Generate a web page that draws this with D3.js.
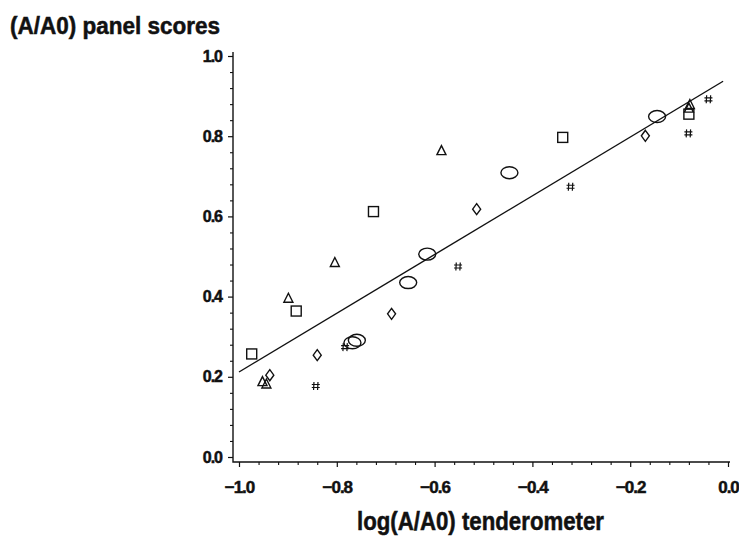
<!DOCTYPE html>
<html>
<head>
<meta charset="utf-8">
<script src="https://cdn.jsdelivr.net/npm/d3@7"></script>
<style>
  html, body { margin: 0; padding: 0; background: #fff; }
  svg { display: block; }
  text { font-family: "Liberation Sans", Arial, Helvetica, sans-serif; font-weight: bold; fill: #111; stroke: #111; stroke-width: 0.5; }
</style>
</head>
<body>
<svg id="chart" width="739" height="541"></svg>
<script>
// Axis ticks
const xMajorTicks = [-1.0, -0.8, -0.6, -0.4, -0.2, 0.0];
const yMajorTicks = [0.0, 0.2, 0.4, 0.6, 0.8, 1.0];
const minorStep = 0.04;

// Observations, one array per plotting symbol: [log(A/A0) tenderometer, (A/A0) panel score]
const squarePts = [[-0.974, 0.257], [-0.883, 0.364], [-0.725, 0.612], [-0.338, 0.797], [-0.080, 0.855]];
const trianglePts = [[-0.952, 0.188], [-0.944, 0.182], [-0.899, 0.396], [-0.804, 0.485], [-0.586, 0.764], [-0.080, 0.870], [-0.078, 0.879]];
const diamondPts = [[-0.937, 0.204], [-0.840, 0.254], [-0.688, 0.357], [-0.514, 0.618], [-0.169, 0.801]];
const ellipsePts = [[-0.768, 0.285], [-0.759, 0.291], [-0.654, 0.435], [-0.615, 0.506], [-0.447, 0.709], [-0.145, 0.849]];
const hashPts = [[-0.843, 0.177], [-0.783, 0.274], [-0.552, 0.475], [-0.322, 0.674], [-0.081, 0.807], [-0.040, 0.892]];

// Fitted regression line end points
const fitLine = [[-1.0, 0.212], [-0.01, 0.937]];

const svg = d3.select("#chart");

const x = d3.scaleLinear().domain([-1.0, 0.0]).range([239, 728]);
const y = d3.scaleLinear().domain([0.0, 1.0]).range([457, 56]);

const axisX0 = 233;   // y-axis position
const axisY0 = 462;   // x-axis position

const fmt = d3.format(".1f");
const minorX = d3.range(-1.0, 0.0001, minorStep).filter(v => !xMajorTicks.some(t => Math.abs(t - v) < 1e-6));
const minorY = d3.range(0.0, 1.0001, minorStep).filter(v => !yMajorTicks.some(t => Math.abs(t - v) < 1e-6));

// Y axis
const gy = svg.append("g").attr("transform", `translate(${axisX0},0)`);
gy.call(d3.axisLeft(y).tickValues(yMajorTicks).tickSize(5).tickPadding(6).tickFormat(fmt))
  .call(g => g.select(".domain").remove());
gy.selectAll(".tick line").attr("stroke", "#111").attr("stroke-width", 1.2);
gy.selectAll(".tick text").attr("font-size", 16).attr("letter-spacing", -1).attr("fill", "#111");
const gyMinor = svg.append("g").attr("transform", `translate(${axisX0},0)`);
gyMinor.call(d3.axisLeft(y).tickValues(minorY).tickSize(3).tickFormat(""))
  .call(g => g.select(".domain").remove());
gyMinor.selectAll(".tick line").attr("stroke", "#111").attr("stroke-width", 1.1);

// X axis
const gx = svg.append("g").attr("transform", `translate(0,${axisY0})`);
gx.call(d3.axisBottom(x).tickValues(xMajorTicks).tickSize(5).tickPadding(14).tickFormat(fmt))
  .call(g => g.select(".domain").remove());
gx.selectAll(".tick line").attr("stroke", "#111").attr("stroke-width", 1.2);
gx.selectAll(".tick text").attr("font-size", 17).attr("letter-spacing", -1).attr("fill", "#111");
const gxMinor = svg.append("g").attr("transform", `translate(0,${axisY0})`);
gxMinor.call(d3.axisBottom(x).tickValues(minorX).tickSize(3).tickFormat(""))
  .call(g => g.select(".domain").remove());
gxMinor.selectAll(".tick line").attr("stroke", "#111").attr("stroke-width", 1.1);

// Axis lines
svg.append("path")
  .attr("d", `M${axisX0},${y(1.0) - 4}V${axisY0}H${x(0.0) + 2}`)
  .attr("fill", "none").attr("stroke", "#111").attr("stroke-width", 1.4);

// Regression line
svg.append("path")
  .datum(fitLine)
  .attr("d", d3.line().x(d => x(d[0])).y(d => y(d[1])))
  .attr("fill", "none").attr("stroke", "#111").attr("stroke-width", 1.4);

// Plot symbols
const markStyle = sel => sel.attr("fill", "none").attr("stroke", "#111").attr("stroke-width", 1.4);

svg.append("g").selectAll("rect").data(squarePts).join("rect")
  .attr("x", d => x(d[0]) - 5).attr("y", d => y(d[1]) - 5)
  .attr("width", 10).attr("height", 10).call(markStyle);

svg.append("g").selectAll("path").data(trianglePts).join("path")
  .attr("transform", d => `translate(${x(d[0])},${y(d[1])})`)
  .attr("d", "M0,-5L4.5,4L-4.5,4Z").call(markStyle);

svg.append("g").selectAll("path").data(diamondPts).join("path")
  .attr("transform", d => `translate(${x(d[0])},${y(d[1])})`)
  .attr("d", "M0,-5.5L4,0L0,5.5L-4,0Z").call(markStyle);

svg.append("g").selectAll("ellipse").data(ellipsePts).join("ellipse")
  .attr("cx", d => x(d[0])).attr("cy", d => y(d[1]))
  .attr("rx", 8.5).attr("ry", 6).call(markStyle);

svg.append("g").selectAll("path").data(hashPts).join("path")
  .attr("transform", d => `translate(${x(d[0])},${y(d[1])})`)
  .attr("d", "M-1.8,-4L-2.2,4M2.2,-4L1.8,4M-4,-1.5H4M-4,1.5H4")
  .attr("fill", "none").attr("stroke", "#111").attr("stroke-width", 1.2);

// Axis titles
svg.append("text")
  .attr("x", 10).attr("y", 34)
  .attr("font-size", 23).attr("textLength", 210).attr("lengthAdjust", "spacingAndGlyphs")
  .text("(A/A0) panel scores");

svg.append("text")
  .attr("x", 357).attr("y", 530)
  .attr("font-size", 25).attr("textLength", 247).attr("lengthAdjust", "spacingAndGlyphs")
  .text("log(A/A0) tenderometer");
</script>
</body>
</html>
